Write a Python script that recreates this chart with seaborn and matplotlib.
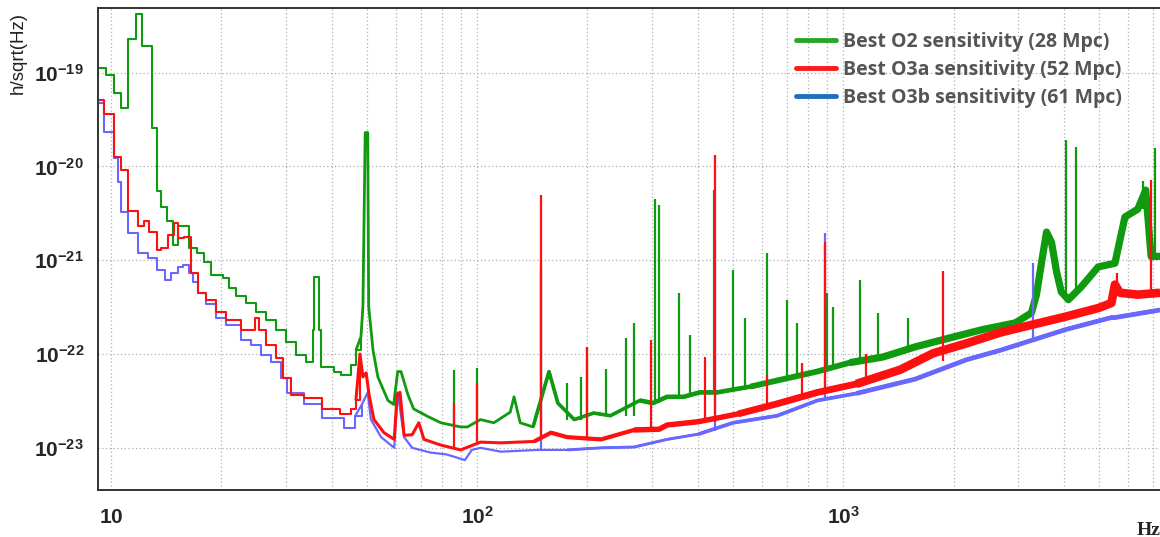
import numpy as np
import matplotlib
matplotlib.use("Agg")
import matplotlib.pyplot as plt
import seaborn as sns
from matplotlib.lines import Line2D
from matplotlib.ticker import LogLocator, NullFormatter, FuncFormatter, FixedLocator

# Best O2 strain sensitivity
o2_freq = [9.2, 9.7, 10.2, 10.65, 11.1, 11.7, 12.15, 12.9, 13.3, 13.7,
           14.2, 14.7, 15.2, 16.3, 17.2, 17.9, 18.7, 20.2, 21.0, 21.9,
           23.3, 24.9, 26.5, 28.2, 30.0, 32.0, 34.0, 35.5, 35.8, 36.9,
           37.4, 40.6, 42.4, 45.2, 46.6, 48.1, 48.7, 49.4, 50.2, 50.5,
           51.9, 53.5, 57.0, 59.1, 60.6, 61.9, 64.6, 67.0, 73.4, 79.5,
           90.0, 94.0, 102, 111, 123, 126, 131, 142, 157, 166,
           184, 208, 231, 278, 302, 330, 366, 405, 452, 558,
           685, 847, 1042, 1283, 1580, 1945, 2395, 2950, 3265, 3370,
           3480, 3590, 3705, 3825, 3940, 4120, 4465, 4970, 5520, 5880,
           6370, 6700, 6930, 7330]
o2_asd = [1.13e-19, 9.5e-20, 6.1e-20, 4.2e-20, 2.3e-19, 4.2e-19, 1.94e-19, 2.6e-20, 5.5e-21, 3.7e-21,
          2.6e-21, 1.46e-21, 2.3e-21, 1.36e-21, 1.2e-21, 9.6e-22, 7.0e-22, 6.5e-22, 5.1e-22, 4.2e-22,
          3.5e-22, 2.8e-22, 2.3e-22, 1.82e-22, 1.35e-22, 9.8e-23, 8.3e-23, 1.82e-22, 6.7e-22, 1.82e-22,
          7.3e-23, 6.5e-23, 6.0e-23, 7.7e-23, 1.1e-22, 1.53e-22, 3.2e-22, 2.3e-20, 2.3e-20, 3.2e-22,
          1.1e-22, 5.7e-23, 3.2e-23, 2.9e-23, 6.5e-23, 6.5e-23, 3.7e-23, 2.6e-23, 2.15e-23, 1.85e-23,
          1.67e-23, 1.67e-23, 2.0e-23, 1.85e-23, 2.4e-23, 3.5e-23, 1.85e-23, 1.67e-23, 6.5e-23, 3.0e-23,
          2.0e-23, 2.35e-23, 2.2e-23, 3.2e-23, 3.0e-23, 3.5e-23, 3.5e-23, 3.9e-23, 3.9e-23, 4.5e-23,
          5.4e-23, 6.5e-23, 8.1e-23, 9.3e-23, 1.2e-22, 1.48e-22, 1.82e-22, 2.15e-22, 2.75e-22, 4.3e-22,
          9.5e-22, 2.0e-21, 1.55e-21, 7.5e-22, 4.6e-22, 3.8e-22, 5.2e-22, 8.5e-22, 9.3e-22, 2.9e-21,
          3.5e-21, 5.6e-21, 1.1e-21, 1.1e-21]
# narrow lines (frequency, floor under the line, top of the line)
o2_line_freq = [86.6, 100, 149, 176, 192, 199, 225, 255, 268, 306, 314, 355, 380, 444,
                500, 540, 620, 700, 747, 900, 935, 1110, 1240, 1500, 4070, 4320, 6600, 7100]
o2_line_base = [1.75e-23, 1.75e-23, 1.7e-23, 2.0e-23, 2.0e-23, 2.1e-23, 2.2e-23, 2.2e-23, 2.2e-23,
                3.0e-23, 3.0e-23, 3.5e-23, 3.6e-23, 3.9e-23, 4.2e-23, 4.4e-23, 4.8e-23, 5.4e-23,
                5.6e-23, 6.5e-23, 6.8e-23, 8.5e-23, 9.0e-23, 1.15e-22, 3.8e-22, 4.5e-22, 3.5e-21, 1.1e-21]
o2_line_top = [6.8e-23, 7.1e-23, 1.0e-21, 4.9e-23, 5.7e-23, 1.2e-22, 7.0e-23, 1.5e-22, 2.15e-22,
               4.5e-21, 3.9e-21, 4.5e-22, 1.6e-22, 5.6e-21, 7.9e-22, 2.4e-22, 1.2e-21, 3.8e-22,
               2.15e-22, 4.5e-22, 3.2e-22, 6.2e-22, 2.75e-22, 2.4e-22, 1.93e-20, 1.6e-20, 7.0e-21, 1.58e-20]

# Best O3a
o3a_freq = [9.2, 9.57, 10.2, 10.65, 11.1, 11.85, 12.3, 12.7, 13.3, 13.7,
            14.3, 14.8, 15.2, 15.8, 16.5, 17.3, 18.2, 19.3, 20.6, 22.6,
            24.1, 24.7, 25.3, 26.5, 28.2, 29.5, 31.0, 33.6, 37.6, 42.2,
            45.2, 46.6, 47.8, 48.7, 49.7, 50.6, 52.2, 55.6, 59.3, 60.4,
            61.5, 63.1, 66.4, 69.2, 71.5, 79.5, 90, 102, 116, 143,
            159, 176, 218, 268, 314, 330, 402, 516, 660, 850,
            1085, 1430, 1760, 2170, 2690, 3270, 4040, 4980, 5400, 5520,
            5700, 6370, 7330]
o3a_asd = [5.15e-20, 3.65e-20, 1.27e-20, 9.2e-21, 3.37e-21, 2.3e-21, 2.6e-21, 2.0e-21, 1.3e-21, 1.36e-21,
           1.87e-21, 2.5e-21, 1.74e-21, 1.78e-21, 7.4e-22, 4.5e-22, 3.8e-22, 2.8e-22, 2.3e-22, 1.82e-22,
           1.82e-22, 2.45e-22, 1.82e-22, 1.26e-22, 9.1e-23, 5.6e-23, 3.7e-23, 3.4e-23, 2.6e-23, 2.3e-23,
           2.6e-23, 3.2e-23, 1.0e-22, 5.7e-23, 6.3e-23, 3.7e-23, 2.0e-23, 1.45e-23, 1.23e-23, 3.7e-23,
           3.9e-23, 1.36e-23, 1.38e-23, 1.85e-23, 1.23e-23, 1.07e-23, 9.5e-24, 1.15e-23, 1.13e-23, 1.17e-23,
           1.45e-23, 1.3e-23, 1.23e-23, 1.55e-23, 1.58e-23, 1.75e-23, 1.9e-23, 2.3e-23, 2.95e-23, 3.9e-23,
           4.8e-23, 6.8e-23, 1.02e-22, 1.3e-22, 1.7e-22, 2.05e-22, 2.5e-22, 3.1e-22, 3.5e-22, 5.5e-22,
           4.5e-22, 4.3e-22, 4.5e-22]
o3a_line_freq = [86.6, 99.6, 149, 199, 298, 420, 446, 620, 770, 890, 1150, 1875, 5600, 6930]
o3a_line_base = [1.0e-23, 1.15e-23, 1.2e-23, 1.3e-23, 1.6e-23, 1.9e-23, 1.9e-23, 2.8e-23, 3.4e-23,
                 3.9e-23, 5.0e-23, 8.5e-23, 5.0e-22, 4.3e-22]
o3a_line_top = [3.0e-23, 4.9e-23, 5.0e-21, 1.2e-22, 1.4e-22, 9.3e-23, 1.34e-20, 6.0e-23, 8.0e-23,
                1.55e-21, 1.0e-22, 7.6e-22, 7.4e-22, 7.2e-21]

# Best O3b
o3b_freq = [9.2, 9.57, 10.2, 10.45, 10.65, 11.1, 11.85, 12.6, 13.3, 14.0,
            14.6, 15.2, 15.7, 16.3, 16.7, 17.3, 18.2, 19.3, 20.6, 22.6,
            24.1, 25.7, 27.3, 29.1, 30.2, 33.6, 37.6, 43.2, 46.4, 48.4,
            50.2, 51.2, 54.6, 59.3, 60.6, 63.1, 66.4, 74.5, 82.5, 92.5,
            96.6, 102, 116, 146, 176, 218, 268, 330, 402, 500,
            660, 850, 1085, 1570, 2170, 2690, 3270, 4040, 5400, 5520,
            7330]
o3b_asd = [4.8e-20, 2.35e-20, 1.24e-20, 6.9e-21, 3.3e-21, 1.96e-21, 1.2e-21, 1.06e-21, 7.9e-22, 6.2e-22,
           7.4e-22, 8.5e-22, 8.9e-22, 7.4e-22, 5.8e-22, 4.5e-22, 3.4e-22, 2.45e-22, 2.05e-22, 1.4e-22,
           1.26e-22, 9.8e-23, 8.3e-23, 5.6e-23, 3.8e-23, 2.9e-23, 2.1e-23, 1.63e-23, 2.2e-23, 2.9e-23,
           3.9e-23, 2.0e-23, 1.3e-23, 1.0e-23, 3.9e-23, 1.3e-23, 1.0e-23, 8.9e-24, 8.5e-24, 7.4e-24,
           9.5e-24, 1.0e-23, 9.1e-24, 9.5e-24, 9.5e-24, 1.0e-23, 1.02e-23, 1.23e-23, 1.4e-23, 1.85e-23,
           2.2e-23, 3.2e-23, 3.8e-23, 5.4e-23, 8.7e-23, 1.1e-22, 1.4e-22, 1.82e-22, 2.45e-22, 2.45e-22,
           2.95e-22]
o3b_line_freq = [149, 446, 890, 3300]
o3b_line_base = [9.5e-24, 1.5e-23, 3.4e-23, 1.45e-22]
o3b_line_top = [8.0e-22, 1.66e-21, 1.94e-21, 9.3e-22]

labels = ["Best O2 sensitivity (28 Mpc)",
          "Best O3a sensitivity (52 Mpc)",
          "Best O3b sensitivity (61 Mpc)"]

sns.set_style("white")
plt.rcParams["font.family"] = ["Liberation Sans", "DejaVu Sans"]
plt.rcParams["mathtext.fontset"] = "custom"
plt.rcParams["mathtext.rm"] = "Liberation Sans"
plt.rcParams["mathtext.bf"] = "Liberation Sans:bold"
plt.rcParams["mathtext.it"] = "Liberation Sans:italic"

fig = plt.figure(figsize=(11.6, 5.37), dpi=100)
ax = fig.add_axes([98 / 1160, 47 / 537, 1 - 98 / 1160, 482 / 537])
ax.set_xscale("log")
ax.set_yscale("log")


def draw_curve(freq, asd, lf, lb, lt, color, tiers):
    freq = np.asarray(freq)
    asd = np.asarray(asd)
    n = np.searchsorted(freq, 47)
    # low frequency part drawn as histogram steps
    sns.lineplot(x=freq[:n + 1], y=asd[:n + 1], color=color, lw=1.5,
                 drawstyle="steps-post", estimator=None, sort=False,
                 legend=False, ax=ax)
    # noisy floor looks thicker towards high frequency
    for fmin, w in tiers:
        i = max(np.searchsorted(freq, fmin) - 1, 0)
        sns.lineplot(x=freq[i:], y=asd[i:], color=color, lw=w,
                     estimator=None, sort=False, legend=False, ax=ax,
                     solid_capstyle="butt")
    ax.vlines(lf, lb, lt, colors=color, lw=1.6)


green = "#109a10"
red = "#ff1010"
blue = "#6868ff"

draw_curve(o2_freq, o2_asd, o2_line_freq, o2_line_base, o2_line_top, green,
           [(47, 2.0), (150, 2.6), (300, 3.3), (600, 4.2), (1200, 5.2)])
draw_curve(o3b_freq, o3b_asd, o3b_line_freq, o3b_line_base, o3b_line_top, blue,
           [(47, 1.6), (200, 2.1), (500, 2.7), (1200, 3.4)])
draw_curve(o3a_freq, o3a_asd, o3a_line_freq, o3a_line_base, o3a_line_top, red,
           [(47, 2.2), (150, 3.0), (300, 3.9), (600, 4.9), (1200, 6.2)])

ax.set_xlim(9.2, 7330)
ax.set_ylim(3.55e-24, 4.9e-19)

# axes, ticks, grid
ax.xaxis.set_major_locator(FixedLocator([10, 100, 1000]))
ax.xaxis.set_major_formatter(FuncFormatter(
    lambda v, p: r"$\mathbf{10}$" if v < 50 else r"$\mathbf{10^{%d}}$" % round(np.log10(v))))
ax.xaxis.set_minor_locator(LogLocator(base=10, subs=np.arange(2, 10)))
ax.xaxis.set_minor_formatter(NullFormatter())
ax.yaxis.set_major_locator(FixedLocator([1e-23, 1e-22, 1e-21, 1e-20, 1e-19]))
ax.yaxis.set_major_formatter(FuncFormatter(
    lambda v, p: r"$\mathbf{10^{%d}}$" % round(np.log10(v))))
ax.yaxis.set_minor_locator(LogLocator(base=10, subs=np.arange(2, 10), numticks=20))
ax.yaxis.set_minor_formatter(NullFormatter())

ax.tick_params(axis="x", which="major", direction="in", length=12, width=1.2,
               color="#444444", pad=24, labelsize=15)
ax.tick_params(axis="x", which="minor", direction="in", length=6.5, width=1.2,
               color="#444444")
ax.tick_params(axis="y", which="major", direction="in", length=21, width=1.2,
               color="#444444", pad=10, labelsize=15)
ax.tick_params(axis="y", which="minor", direction="in", length=10, width=1.2,
               color="#444444")
for t in ax.get_xticklabels():
    t.set_verticalalignment("baseline")

ax.grid(which="major", axis="both", ls=(0, (1, 2)), color="#b0b0b0", lw=0.9)
ax.grid(which="minor", axis="x", ls=(0, (1, 2)), color="#b0b0b0", lw=0.9)
ax.set_axisbelow(True)

for side in ["left", "bottom", "top"]:
    ax.spines[side].set_color("#333333")
    ax.spines[side].set_linewidth(1.4)
ax.spines["right"].set_visible(False)

ax.set_xlabel("")
ax.set_ylabel("")
fig.text(18 / 1160, 1 - 12 / 537, "h/sqrt(Hz)", rotation=90, ha="center", va="top",
         fontsize=13.5, color="#222222")
fig.text(1137 / 1160, 2 / 537, "Hz", family="Liberation Serif", weight="bold",
         fontsize=14, ha="left", va="baseline")

handles = [Line2D([], [], color="#2aa52a", lw=3.5),
           Line2D([], [], color="#ff1a1a", lw=3.5),
           Line2D([], [], color="#1f6fc0", lw=3.5)]
ax.legend(handles, labels, loc="upper left", bbox_to_anchor=(796 / 1160, 1 - 32 / 537),
          bbox_transform=fig.transFigure, frameon=False,
          prop={"family": "Open Sans", "weight": "bold", "size": 14},
          labelcolor="#555555", handlelength=2.05, handletextpad=0.35,
          labelspacing=0.4, borderpad=0, borderaxespad=0)

fig.savefig("out.png", dpi=100)
